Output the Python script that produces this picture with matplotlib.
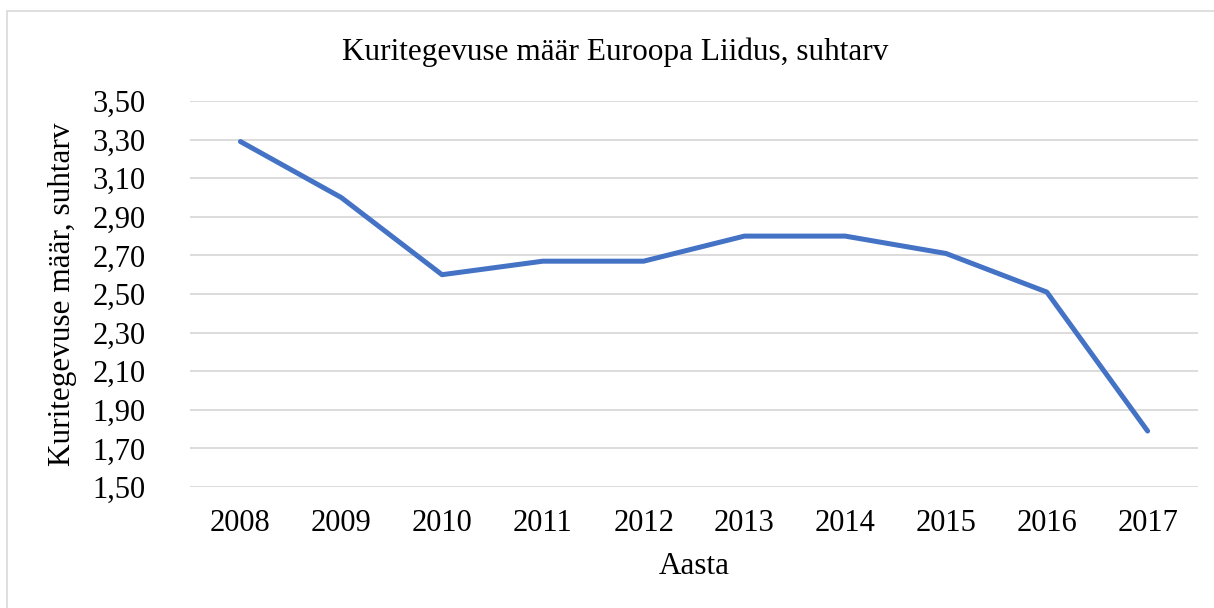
import matplotlib.pyplot as plt
from matplotlib.patches import Rectangle
from matplotlib.ticker import FuncFormatter

# data
years = ['2008', '2009', '2010', '2011', '2012', '2013', '2014', '2015', '2016', '2017']
rate = [3.29, 3.00, 2.60, 2.67, 2.67, 2.80, 2.80, 2.71, 2.51, 1.79]
y_ticks = [1.50, 1.70, 1.90, 2.10, 2.30, 2.50, 2.70, 2.90, 3.10, 3.30, 3.50]

plt.rcParams['font.family'] = ['Liberation Serif', 'DejaVu Serif']

fig = plt.figure(figsize=(12.14, 6.08), dpi=100)
ax = fig.add_axes([190 / 1214, 1 - 487 / 608, 1008 / 1214, 386 / 608])

# light outer frame like the office chart area
fig.patches.append(Rectangle((7 / 1214, -0.02), 1.05, 1 - 11 / 608 + 0.02,
                             transform=fig.transFigure, fill=False,
                             edgecolor='#D9D9D9', linewidth=1.2))

x = range(len(years))
ax.plot(x, rate, color='#4472C4', linewidth=3.6, solid_capstyle='round',
        solid_joinstyle='round', zorder=3)

ax.set_xlim(-0.5, len(years) - 0.5)
ax.set_ylim(1.5, 3.5)
ax.set_xticks(list(x))
ax.set_xticklabels(years)
ax.set_yticks(y_ticks)
ax.yaxis.set_major_formatter(FuncFormatter(lambda v, _: f'{v:.2f}'.replace('.', ',')))
ax.tick_params(length=0, labelsize=22)
ax.tick_params(axis='x', pad=16)
ax.tick_params(axis='y', pad=32)
ax.grid(axis='y', color='#D9D9D9', linewidth=1.3)
ax.set_axisbelow(True)
for s in ax.spines.values():
    s.set_visible(False)

ax.set_ylabel('Kuritegevuse määr, suhtarv', fontsize=22.5, va='center')
ax.yaxis.set_label_coords(-0.126, 0.5)
ax.set_xlabel('Aasta', fontsize=22.5, va='center')
ax.xaxis.set_label_coords(0.5, -0.205)
fig.text(615 / 1214, 1 - 52 / 608, 'Kuritegevuse määr Euroopa Liidus, suhtarv',
         ha='center', va='center', fontsize=22.5)

fig.savefig('out.png', dpi=100)
